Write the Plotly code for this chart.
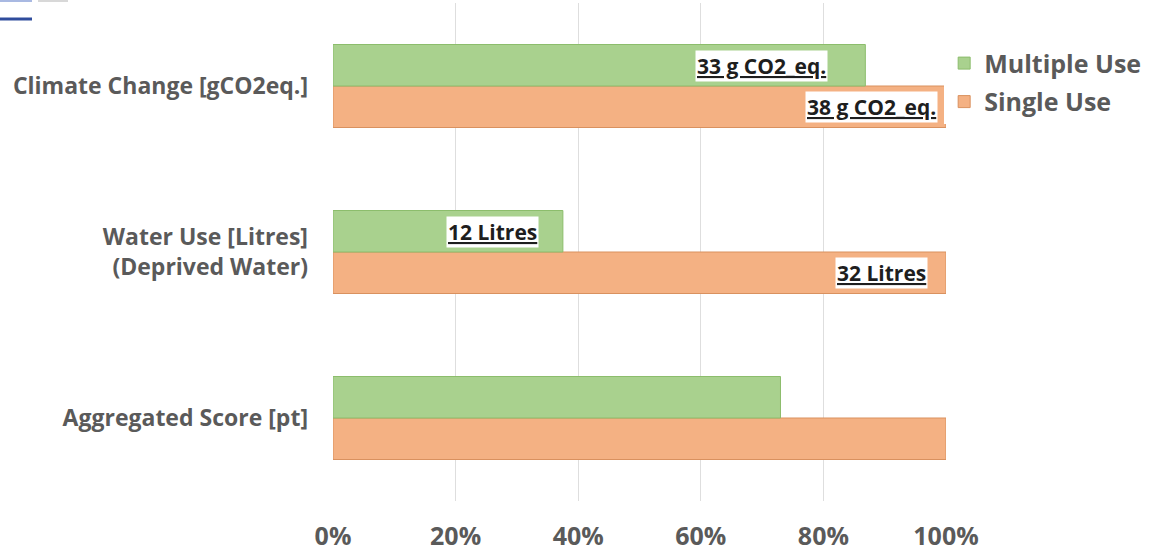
import plotly.graph_objects as go

# Impact categories, listed top to bottom
categories = [
    "Climate Change [gCO2eq.]",
    "Water Use [Litres]<br>(Deprived Water)",
    "Aggregated Score [pt]",
]

# Share of the single-use impact (single use = 100%)
multiple_use = [33 / 38, 12 / 32, 0.73]
single_use = [1.0, 1.0, 1.0]

# Absolute values written on the bars (None = no label)
multiple_labels = ["33 g CO2_eq.", "12 Litres", None]
single_labels = ["38 g CO2_eq.", "32 Litres", None]

x_ticks = [0, 0.2, 0.4, 0.6, 0.8, 1.0]
x_tick_text = ["0%", "20%", "40%", "60%", "80%", "100%"]

FONT = "Open Sans"
TEXT_GREY = "#5a5a5a"
GREEN = "#a9d18e"
GREEN_EDGE = "#8cbd6c"
ORANGE = "#f4b183"
ORANGE_EDGE = "#d9915f"

fig = go.Figure()
fig.add_trace(go.Bar(
    y=categories, x=single_use, orientation="h", name="Single Use",
    legendgroup="single", legendrank=2,
    marker=dict(color=ORANGE, line=dict(color=ORANGE_EDGE, width=1)),
))
fig.add_trace(go.Bar(
    y=categories, x=multiple_use, orientation="h", name="Multiple Use",
    legendgroup="multiple", legendrank=1,
    marker=dict(color=GREEN, line=dict(color=GREEN_EDGE, width=1)),
))

# Value call-outs: white boxes near the end of each bar
label_shift = {("m", 0): -37, ("s", 0): -8, ("m", 1): -24, ("s", 1): -18}
bar_half_px = 20.5
for i, cat in enumerate(categories):
    for key, vals, labels, dy in (("m", multiple_use, multiple_labels, bar_half_px),
                                  ("s", single_use, single_labels, -bar_half_px)):
        if labels[i] is None:
            continue
        fig.add_annotation(
            x=vals[i], y=cat, xref="x", yref="y",
            text=f"<b><u>{labels[i]}</u></b>",
            showarrow=False, xanchor="right", yanchor="middle",
            xshift=label_shift[(key, i)], yshift=dy,
            bgcolor="white", borderpad=1,
            font=dict(family=FONT, size=21, color="#1e1e1e"),
        )

# Small header marks along the top-left edge
def px_x(p):
    return (p - 333) / 613

def px_y(p):
    return 1 - (p - 3) / 498

for x0, x1, y, col, w in ((0, 32, 19, "#2f4c9c", 3), (0, 32, 1, "#a9b9e2", 2),
                          (38, 68, 1, "#d8d8d8", 2)):
    fig.add_shape(type="line", xref="paper", yref="paper",
                  x0=px_x(x0), x1=px_x(x1), y0=px_y(y), y1=px_y(y),
                  line=dict(color=col, width=w))

fig.update_layout(
    width=1163, height=554,
    margin=dict(l=333, r=217, t=3, b=53),
    paper_bgcolor="white", plot_bgcolor="white",
    barmode="group", bargap=0.5, bargroupgap=0,
    font=dict(family=FONT, color=TEXT_GREY),
    showlegend=True,
    legend=dict(
        x=0.997, y=0.925, xanchor="left", yanchor="top",
        traceorder="grouped",
        font=dict(family=FONT, size=25, color=TEXT_GREY, weight="bold"),
        itemwidth=30, tracegroupgap=3,
    ),
    xaxis=dict(
        range=[0, 1], tickvals=x_ticks, ticktext=x_tick_text,
        showgrid=True, gridcolor="#dedede", gridwidth=1,
        zeroline=False, showline=False, automargin=False,
        tickfont=dict(family=FONT, size=25, color=TEXT_GREY, weight="bold"),
        ticklabelstandoff=18,
    ),
    yaxis=dict(
        categoryorder="array", categoryarray=categories[::-1],
        showgrid=False, zeroline=False, showline=False, automargin=False,
        tickfont=dict(family=FONT, size=23, color=TEXT_GREY, weight="bold"),
        ticklabelstandoff=24,
    ),
)

fig.write_html("out.html")
